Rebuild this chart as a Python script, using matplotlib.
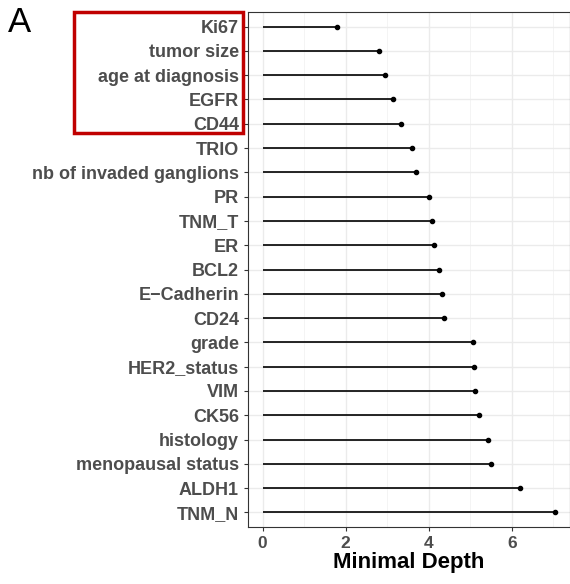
import matplotlib.pyplot as plt
import matplotlib.patches as patches

plt.rcParams['font.family'] = ['Liberation Sans', 'DejaVu Sans']

variables = ['Ki67', 'tumor size', 'age at diagnosis', 'EGFR', 'CD44', 'TRIO',
             'nb of invaded ganglions', 'PR', 'TNM_T', 'ER', 'BCL2', 'E\u2212Cadherin',
             'CD24', 'grade', 'HER2_status', 'VIM', 'CK56', 'histology',
             'menopausal status', 'ALDH1', 'TNM_N']
depth = [1.79, 2.81, 2.95, 3.14, 3.33, 3.60, 3.69, 4.00, 4.07, 4.12, 4.24, 4.31,
         4.36, 5.07, 5.10, 5.12, 5.21, 5.43, 5.50, 6.19, 7.05]

fig = plt.figure(figsize=(5.70, 5.84), dpi=100)
ax = fig.add_axes([248 / 570, 1 - 527 / 584, 322 / 570, 515 / 584])

y = list(range(len(variables)))
ax.hlines(y, 0, depth, color='black', lw=1.2, zorder=3)
ax.scatter(depth, y, color='black', s=9, zorder=4)

ax.set_xlim(-0.35, 7.4)
ax.set_ylim(len(variables) - 0.4, -0.6)
ax.set_yticks(y)
ax.set_yticklabels(variables, fontsize=13, fontweight='bold', color='#4d4d4d')
ax.set_xticks([0, 2, 4, 6])
ax.set_xticks([1, 3, 5, 7], minor=True)
ax.tick_params(axis='x', labelsize=12.5, labelcolor='#4d4d4d', color='#333333', length=3)
ax.tick_params(axis='y', color='#333333', length=3)
ax.tick_params(axis='x', which='minor', length=0)
for lab in ax.get_xticklabels():
    lab.set_fontweight('bold')
ax.grid(True, which='major', color='#ebebeb', lw=1.0, zorder=0)
ax.grid(True, which='minor', axis='x', color='#f3f3f3', lw=0.6, zorder=0)
for s in ax.spines.values():
    s.set_color('#333333')
    s.set_linewidth(0.8)
ax.set_xlabel('Minimal Depth', fontsize=16, fontweight='bold', labelpad=1)

fig.text(8 / 570, 1 - 22 / 584, 'A', fontsize=25, va='center', ha='left')
fig.patches.append(patches.Rectangle((74 / 570, 1 - 133 / 584), 169 / 570, 121 / 584,
                                     transform=fig.transFigure, fill=False,
                                     edgecolor='#c00000', lw=2.5))

fig.savefig('out.png', dpi=100)
